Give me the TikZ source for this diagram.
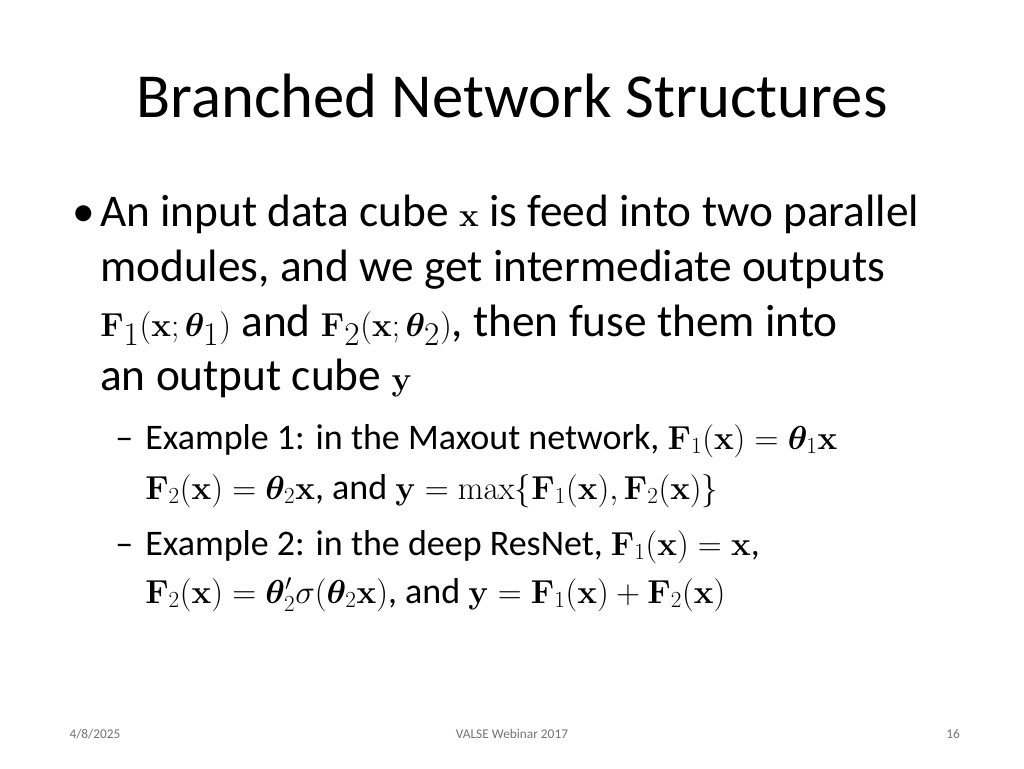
\documentclass[tikz,border=0pt]{standalone}
\usepackage{amsmath,bm}
\usepackage[no-math]{fontspec}
\setmainfont{Carlito}
\begin{document}
\begin{tikzpicture}[x=0.75pt,y=-0.75pt,
  body/.style={anchor=base west,inner sep=0pt,font=\fontsize{34}{40}\selectfont},
  sub/.style={anchor=base west,inner sep=0pt,font=\fontsize{27}{32}\selectfont},
  foot/.style={anchor=base,inner sep=0pt,font=\fontsize{10}{12}\selectfont,text=black!55}]
\useasboundingbox[fill=white] (0,0) rectangle (1024,768);
\node[anchor=base,inner sep=0pt,font=\fontsize{47}{56}\selectfont] (title) at (512,117) {Branched Network Structures};
\node[body] (b) at (72,226) {•};
\node[body] (l1) at (100,226) {An input data cube $\mathbf{x}$ is feed into two parallel};
\node[body] (l2) at (100,281) {modules, and we get intermediate outputs};
\node[body] (l3) at (100,336) {$\mathbf{F}_1(\mathbf{x};\bm{\theta}_1)$ and $\mathbf{F}_2(\mathbf{x};\bm{\theta}_2)$, then fuse them into};
\node[body] (l4) at (100,390) {an output cube $\mathbf{y}$};
\node[sub] (d1) at (115,449) {–};
\node[sub] (s1) at (145,449) {Example 1: in the Maxout network, $\mathbf{F}_1(\mathbf{x})=\bm{\theta}_1\mathbf{x}$};
\node[sub] (s2) at (145,499) {$\mathbf{F}_2(\mathbf{x})=\bm{\theta}_2\mathbf{x}$, and $\mathbf{y}=\max\{\mathbf{F}_1(\mathbf{x}),\mathbf{F}_2(\mathbf{x})\}$};
\node[sub] (d2) at (115,555) {–};
\node[sub] (s3) at (145,555) {Example 2: in the deep ResNet, $\mathbf{F}_1(\mathbf{x})=\mathbf{x}$,};
\node[sub] (s4) at (145,603) {$\mathbf{F}_2(\mathbf{x})=\bm{\theta}_2'\sigma(\bm{\theta}_2\mathbf{x})$, and $\mathbf{y}=\mathbf{F}_1(\mathbf{x})+\mathbf{F}_2(\mathbf{x})$};
\node[foot] (f1) at (95,738) {4/8/2025};
\node[foot] (f2) at (512,738) {VALSE Webinar 2017};
\node[foot] (f3) at (953,738) {16};
\end{tikzpicture}
\end{document}
